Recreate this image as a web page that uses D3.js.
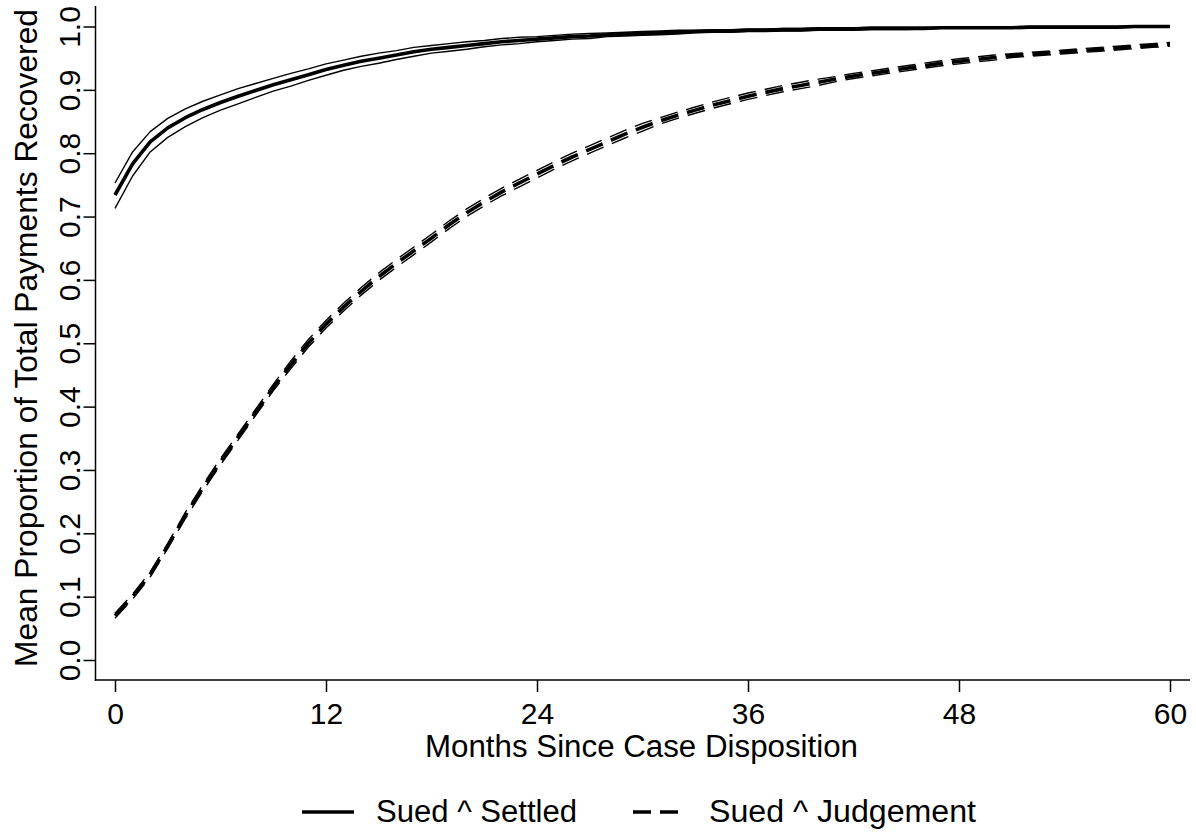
<!DOCTYPE html>
<html>
<head>
<meta charset="utf-8">
<script src="https://cdn.jsdelivr.net/npm/d3@7"></script>
<style>
  html, body { margin: 0; padding: 0; background: #fff; }
  svg { display: block; }
  text { font-family: "Liberation Sans", Arial, Helvetica, sans-serif; fill: #000; }
</style>
</head>
<body>
<svg id="chart" width="1196" height="834"></svg>
<script>
// ---------------- DATA ----------------
const months = d3.range(0, 61); // 0..60 months since case disposition

const settledMean = [0.734,0.783,0.818,0.840,0.856,0.869,0.880,0.890,0.899,0.908,
  0.916,0.924,0.932,0.939,0.945,0.950,0.955,0.960,0.964,0.967,
  0.970,0.973,0.976,0.978,0.980,0.982,0.984,0.985,0.987,0.988,
  0.989,0.990,0.991,0.992,0.993,0.993,0.994,0.994,0.995,0.995,
  0.996,0.996,0.996,0.997,0.997,0.997,0.997,0.998,0.998,0.998,
  0.998,0.998,0.999,0.999,0.999,0.999,0.999,0.999,1.000,1.000,1.000];
const settledUpper = [0.753,0.802,0.834,0.855,0.870,0.882,0.892,0.902,0.910,0.918,
  0.926,0.933,0.941,0.947,0.953,0.958,0.962,0.967,0.970,0.973,
  0.976,0.978,0.981,0.983,0.984,0.986,0.988,0.989,0.990,0.991,
  0.992,0.993,0.994,0.994,0.995,0.995,0.996,0.996,0.997,0.997,
  0.998,0.998,0.998,0.999,0.999,0.999,0.999,0.999,0.999,0.999,
  0.999,0.999,1.000,1.000,1.000,1.000,1.000,1.000,1.000,1.000,1.000];
const settledLower = [0.713,0.764,0.802,0.825,0.842,0.856,0.868,0.878,0.888,0.898,
  0.906,0.915,0.923,0.931,0.937,0.942,0.948,0.953,0.958,0.961,
  0.964,0.968,0.971,0.973,0.976,0.978,0.980,0.981,0.984,0.985,
  0.986,0.987,0.988,0.990,0.991,0.991,0.992,0.992,0.993,0.993,
  0.994,0.994,0.994,0.995,0.995,0.995,0.996,0.997,0.997,0.997,
  0.997,0.997,0.998,0.998,0.998,0.998,0.998,0.998,0.999,0.999,0.999];

const judgementMean = [0.070,0.100,0.135,0.180,0.228,0.272,0.313,0.352,0.391,0.430,
  0.466,0.500,0.530,0.557,0.582,0.605,0.626,0.646,0.666,0.687,
  0.706,0.723,0.739,0.753,0.767,0.781,0.794,0.806,0.818,0.830,
  0.841,0.851,0.860,0.868,0.876,0.883,0.890,0.896,0.902,0.907,
  0.912,0.917,0.922,0.926,0.930,0.934,0.938,0.942,0.945,0.948,
  0.951,0.954,0.956,0.958,0.960,0.962,0.964,0.966,0.968,0.970,0.972];
const judgementUpper = [0.074,0.104,0.139,0.184,0.233,0.277,0.318,0.357,0.396,0.435,
  0.472,0.506,0.536,0.563,0.588,0.611,0.632,0.652,0.672,0.693,
  0.712,0.729,0.745,0.759,0.773,0.787,0.800,0.812,0.824,0.836,
  0.847,0.856,0.865,0.873,0.881,0.888,0.895,0.901,0.907,0.912,
  0.917,0.921,0.926,0.930,0.934,0.938,0.942,0.946,0.949,0.952,
  0.955,0.957,0.959,0.961,0.963,0.965,0.967,0.969,0.971,0.973,0.975];
const judgementLower = [0.066,0.096,0.131,0.176,0.223,0.267,0.308,0.347,0.386,0.425,
  0.460,0.494,0.524,0.551,0.576,0.599,0.620,0.640,0.660,0.681,
  0.700,0.717,0.733,0.747,0.761,0.775,0.788,0.800,0.812,0.824,
  0.835,0.846,0.855,0.863,0.871,0.878,0.885,0.891,0.897,0.902,
  0.907,0.913,0.918,0.922,0.926,0.930,0.934,0.938,0.941,0.944,
  0.947,0.951,0.953,0.955,0.957,0.959,0.961,0.963,0.965,0.967,0.969];

const xTicks = [0, 12, 24, 36, 48, 60];
const yTicks = [0.0, 0.1, 0.2, 0.3, 0.4, 0.5, 0.6, 0.7, 0.8, 0.9, 1.0];
const seriesNames = ["Sued ^ Settled", "Sued ^ Judgement"];
const xTitle = "Months Since Case Disposition";
const yTitle = "Mean Proportion of Total Payments Recovered";

// ---------------- CHART ----------------
const svg = d3.select("#chart");
const W = 1196, H = 834;
svg.append("rect").attr("width", W).attr("height", H).attr("fill", "#fff");

const x = d3.scaleLinear().domain([0, 60]).range([115, 1170]);
const y = d3.scaleLinear().domain([0, 1]).range([660, 26.5]);

const axisX0 = 95.5, axisY0 = 680;
const TICKFONT = 30, TITLEFONT = 31;

// Axes lines
svg.append("line").attr("x1", axisX0).attr("x2", axisX0).attr("y1", 6).attr("y2", axisY0 + 0.75)
  .attr("stroke", "#000").attr("stroke-width", 1.5);
svg.append("line").attr("x1", axisX0 - 0.75).attr("x2", 1190).attr("y1", axisY0).attr("y2", axisY0)
  .attr("stroke", "#000").attr("stroke-width", 1.5);

// Y axis
const gy = svg.append("g").attr("transform", `translate(${axisX0},0)`)
  .call(d3.axisLeft(y).tickValues(yTicks).tickSize(12).tickSizeOuter(0).tickFormat(d3.format(".1f")));
gy.select(".domain").remove();
gy.selectAll(".tick line").attr("stroke", "#000").attr("stroke-width", 1.5);
gy.selectAll(".tick text")
  .attr("x", null).attr("dy", null)
  .attr("transform", "translate(-15.5,0) rotate(-90)")
  .attr("text-anchor", "middle")
  .style("font-family", '"Liberation Sans", Arial, sans-serif')
  .style("font-size", TICKFONT + "px");

// X axis
const gx = svg.append("g").attr("transform", `translate(0,${axisY0})`)
  .call(d3.axisBottom(x).tickValues(xTicks).tickSize(12).tickSizeOuter(0));
gx.select(".domain").remove();
gx.selectAll(".tick line").attr("stroke", "#000").attr("stroke-width", 1.5);
gx.selectAll(".tick text")
  .attr("y", 43.5).attr("dy", null)
  .attr("text-anchor", "middle")
  .style("font-family", '"Liberation Sans", Arial, sans-serif')
  .style("font-size", TICKFONT + "px");

// Titles
svg.append("text").attr("x", 641.5).attr("y", 757).attr("text-anchor", "middle")
  .style("font-size", TITLEFONT + "px")
  .attr("textLength", 433).attr("lengthAdjust", "spacingAndGlyphs")
  .text(xTitle);
svg.append("text").attr("transform", "translate(37,338) rotate(-90)").attr("text-anchor", "middle")
  .style("font-size", TITLEFONT + "px")
  .attr("textLength", 658).attr("lengthAdjust", "spacingAndGlyphs")
  .text(yTitle);

// Lines
const line = d3.line().x((d, i) => x(months[i])).y(d => y(d));
const series = [
  { vals: settledLower, w: 1.4, dash: null },
  { vals: settledUpper, w: 1.4, dash: null },
  { vals: settledMean, w: 3.6, dash: null },
  { vals: judgementLower, w: 1.4, dash: "18,9" },
  { vals: judgementUpper, w: 1.4, dash: "18,9" },
  { vals: judgementMean, w: 3.6, dash: "18,9" }
];
svg.append("g").selectAll("path").data(series).join("path")
  .attr("d", d => line(d.vals))
  .attr("fill", "none")
  .attr("stroke", "#000")
  .attr("stroke-width", d => d.w)
  .attr("stroke-linejoin", "round")
  .attr("stroke-dasharray", d => d.dash);

// Legend
const legend = svg.append("g");
const legItems = [
  { name: seriesNames[0], x1: 302, x2: 354, tx: 376, tw: 201, dash: null },
  { name: seriesNames[1], x1: 633, x2: 678, tx: 709, tw: 267, dash: "18,9" }
];
legItems.forEach(it => {
  legend.append("line").attr("x1", it.x1).attr("x2", it.x2).attr("y1", 812).attr("y2", 812)
    .attr("stroke", "#000").attr("stroke-width", 3.6).attr("stroke-dasharray", it.dash);
  legend.append("text").attr("x", it.tx).attr("y", 822)
    .style("font-size", TITLEFONT + "px")
    .attr("textLength", it.tw).attr("lengthAdjust", "spacingAndGlyphs")
    .text(it.name);
});
</script>
</body>
</html>
